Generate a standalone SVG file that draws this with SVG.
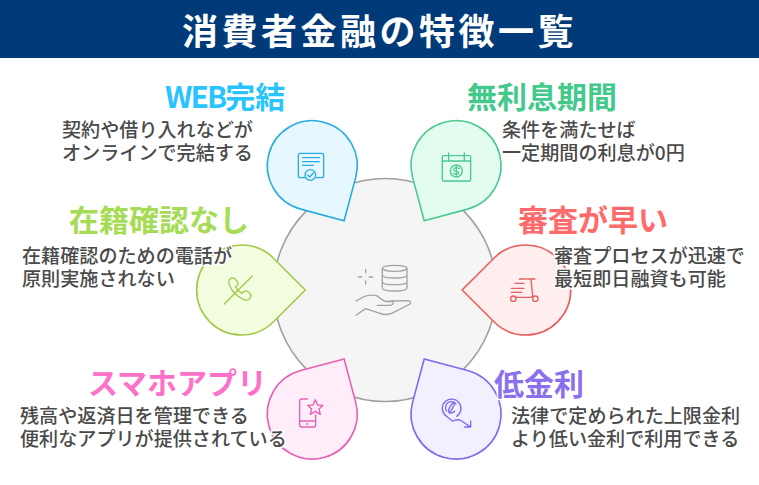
<svg xmlns="http://www.w3.org/2000/svg" width="759" height="485" viewBox="0 0 759 485">
<style>
text{font-family:"Noto Sans CJK JP","Noto Sans",sans-serif}
.title{font-size:36px;font-weight:700;fill:#fff;letter-spacing:3.5px}
.h{font-size:30px;font-weight:700;stroke:#fff;stroke-width:3px;paint-order:stroke;stroke-linejoin:round}
.b{font-size:19.1px;font-weight:500;fill:#4a4a4a;stroke:#fff;stroke-width:3px;paint-order:stroke;stroke-linejoin:round}
.i{fill:none;stroke-linecap:round;stroke-linejoin:round;stroke-width:4}
.drop{stroke-width:1.6}
.blue .drop{fill:#e6f7ff;stroke:#29abe2}.blue .i{stroke:#29abe2}.blue .h{fill:#29c4ff}
.green .drop{fill:#e2fcf0;stroke:#4cc98f}.green .i{stroke:#4cc98f}.green .h{fill:#44c98c}
.lime .drop{fill:#f3fde0;stroke:#a3c94a}.lime .i{stroke:#a3c94a}.lime .h{fill:#a6dc55}
.red .drop{fill:#ffeeee;stroke:#e85f5f}.red .i{stroke:#e85f5f}.red .h{fill:#ff6b6b}
.pink .drop{fill:#ffeefa;stroke:#e85fb5}.pink .i{stroke:#e85fb5}.pink .h{fill:#ff70c8}
.violet .drop{fill:#f2f0ff;stroke:#7b6cf0}.violet .i{stroke:#7b6cf0}.violet .h{fill:#8a70ee}
</style>
<defs>
<path id="drop" d="M63.6 0L31.8-31.8A45 45 0 1 0 31.8 31.8Z"/>
</defs>
<g id="header">
<rect x="0" y="0" width="759" height="58" fill="#003a78"/>
<text class="title" x="182" y="45">消費者金融の特徴一覧</text>
</g>
<g id="center">
<circle cx="385" cy="290" r="111.5" fill="#f5f5f5" stroke="#a0a0a0" stroke-width="1.6"/>
<g transform="translate(180 230) scale(.3333)" fill="none" stroke="#a3a3a3" stroke-width="4" stroke-linecap="round" stroke-linejoin="round">
<ellipse cx="644" cy="115" rx="37" ry="9"/>
<path d="M607 115V174Q607 183 644 183Q681 183 681 174V115M607 135Q607 144 644 144Q681 144 681 135M607 155Q607 164 644 164Q681 164 681 155"/>
<path d="M557 118V128M557 153V163M535 141H545M568 141H578"/>
<path d="M528 213L552 200Q570 193 590 197L612 213Q620 216 640 213L685 212Q695 215 690 222L640 248Q620 258 600 250L557 236L528 256"/>
<path d="M592 226H632Q642 222 640 213"/>
</g>
</g>
<g id="node-web" class="blue">
<use href="#drop" class="drop" transform="translate(312.3 165.7) rotate(60)"/>
<g transform="translate(250 110) scale(.3333)" class="i">
<path d="M165 203H151Q145 203 145 197V136Q145 130 151 130H215Q221 130 221 136V197Q221 203 215 203H198"/>
<path d="M158 143H208M158 155H208M158 166H190"/>
<circle cx="181" cy="195" r="16"/>
<path d="M173 195L179 201L190 189"/>
</g>
<text class="h" x="165" y="108"><tspan letter-spacing="-2">WEB</tspan>完結</text>
<text class="b" x="62" y="137">契約や借り入れなどが</text>
<text class="b" x="62" y="160">オンラインで完結する</text>
</g>
<g id="node-interest" class="green">
<use href="#drop" class="drop" transform="translate(456 165.7) rotate(120)"/>
<g transform="translate(250 110) scale(.3333)" class="i">
<rect x="577" y="137" width="85" height="76" rx="4"/>
<path d="M577 153H662M596 129V150M643 129V150"/>
<circle cx="619" cy="183" r="18"/>
<path d="M628 176Q619 170 612 176Q609 182 619 184Q629 187 626 191Q619 197 610 190M619 168V198" stroke-width="3.5"/>
</g>
<text class="h" x="467" y="108">無利息期間</text>
<text class="b" x="502" y="137">条件を満たせば</text>
<text class="b" x="502" y="160">一定期間の利息が0円</text>
</g>
<g id="node-noverify" class="lime">
<use href="#drop" class="drop" transform="translate(241.7 290)"/>
<g transform="translate(180 230) scale(.3333)" class="i">
<path d="M148 150Q155 140 165 146L174 158Q176 163 170 167L166 170Q172 182 186 190L191 185Q196 181 202 184L212 192Q215 200 207 208Q200 213 190 208Q160 195 148 165Q145 156 148 150Z"/>
<path d="M217 138L133 222"/>
</g>
<text class="h" x="69" y="231">在籍確認なし</text>
<text class="b" x="22" y="263">在籍確認のための電話が</text>
<text class="b" x="22" y="286">原則実施されない</text>
</g>
<g id="node-fast" class="red">
<use href="#drop" class="drop" transform="translate(525.7 290) rotate(180)"/>
<g transform="translate(400 230) scale(.3333)" class="i">
<circle cx="340" cy="206" r="8"/>
<circle cx="406" cy="206" r="8"/>
<path d="M348 202H392Q398 202 398 196L393 147M382 147H405M358 147H378M345 160H372M334 175H372M334 187H365"/>
</g>
<text class="h" x="518" y="231">審査が早い</text>
<text class="b" x="554" y="263">審査プロセスが迅速で</text>
<text class="b" x="554" y="286">最短即日融資も可能</text>
</g>
<g id="node-app" class="pink">
<use href="#drop" class="drop" transform="translate(312.3 414) rotate(-60)"/>
<g transform="translate(250 350) scale(.3333)" class="i">
<path d="M172 147H155Q149 147 149 153V225Q149 231 155 231H191Q197 231 197 225V195M149 213H197"/>
<circle cx="172" cy="222" r="1.2"/>
<path d="M196 149L203 165L219 166L207 177L211 193L196 184L181 193L185 177L173 166L189 165Z"/>
</g>
<text class="h" x="88" y="394">スマホアプリ</text>
<text class="b" x="20" y="423">残高や返済日を管理できる</text>
<text class="b" x="20" y="446">便利なアプリが提供されている</text>
</g>
<g id="node-rate" class="violet">
<use href="#drop" class="drop" transform="translate(456 414) rotate(-120)"/>
<g transform="translate(250 350) scale(.3333)" class="i">
<path d="M585 195A28 28 0 1 1 620 199"/>
<path d="M590 183A17 17 0 0 1 618 162"/>
<path d="M596 186Q594 176 606 162Q614 155 612 166Q606 180 598 188Q602 192 614 184"/>
<path d="M585 195L608 214Q620 205 635 213L660 230M662 213V231H643"/>
</g>
<text class="h" x="494" y="395">低金利</text>
<text class="b" x="511" y="423">法律で定められた上限金利</text>
<text class="b" x="511" y="446">より低い金利で利用できる</text>
</g>
</svg>
